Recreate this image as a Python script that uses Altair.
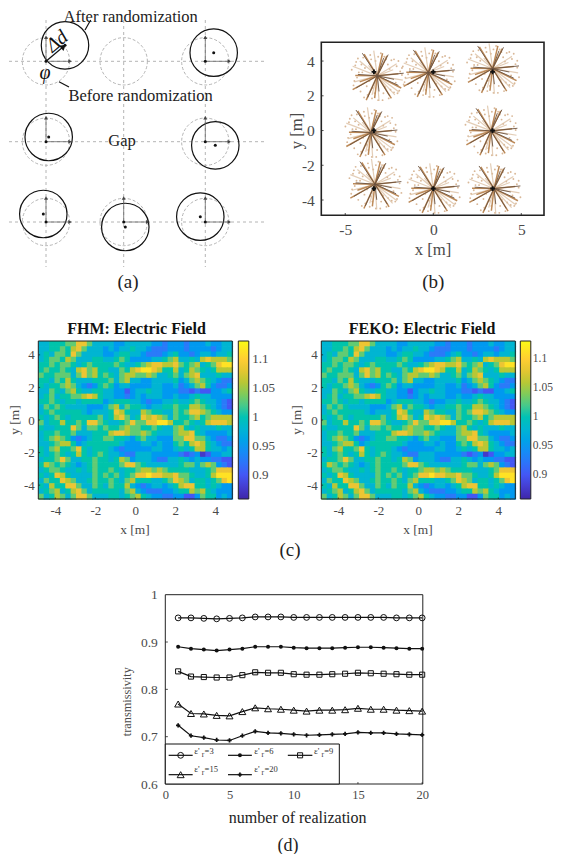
import altair as alt
import numpy as np
import pandas as pd

SERIF = "Liberation Serif"
GRAY = "#4a4a4a"

# ---------- panel (a): schematic, in page pixels
h_lines = [61.3, 141.7, 222.0]
v_lines = [46.0, 123.7, 205.3]
before_centers = [(46, 61.3), (123.7, 61.3), (205.3, 61.3), (46, 141.7), (205.3, 141.7),
                  (46, 222), (123.7, 222), (205.3, 222)]
after_centers = [(65, 45.3), (213.7, 52.7), (48.7, 137), (215.3, 145.3),
                 (43.3, 214), (125.3, 227), (200.3, 216.7)]
origins = [(46, 61.3), (205.3, 61.3), (46, 141.7), (205.3, 141.7),
           (46, 222), (123.7, 222), (205.3, 222)]
leaders = [(90.7, 20, 85, 30), (69, 87, 59, 81.7), (46, 61.3, 63, 47)]

# ---------- panel (b): tree positions and a branch pattern
tree_x = [-3.18, -0.28, 3.37, -3.54, 3.28, -3.31, 0.0, 3.45]
tree_y = [3.15, 3.34, 3.57, -0.12, -0.02, -3.09, -3.34, -3.34]
plus_x = [-3.37, 0.0, 3.37, -3.37, 3.37, -3.37, 0.0, 3.37]
plus_y = [3.38, 3.38, 3.38, 0.0, 0.0, -3.34, -3.34, -3.34]
orange_dx = [-1.25, -1.4, -.63, -.15, .8, 1.36, 1.2, -.75, .55, .3, -1.0]
orange_dy = [.02, -.8, -1.4, -1.28, -1.3, -.7, .12, 1.25, 1.15, 1.3, -.35]
dark_dx = [-1.1, 1.5, -.85, .62, .36, -1.2, -.55, .7, 1.2, .1, .95]
dark_dy = [.08, .15, 1.3, 1.22, 1.02, -.7, -1.25, -1.15, -.55, -.9, -.2]
tan_dx = [1.1, -.2, .1, -1.4, 1.45, 1.0, -1.0, .2, -.5, .9, -1.3, 1.25, -.3, .5]
tan_dy = [.7, 1.45, -1.45, .55, -.25, -1.1, .85, .75, .6, .35, -.35, -.95, -1.1, -.75]
twig_dx = [-1.45, -1.3, -1.2, -1.05, -.95, -.8, -.7, -.55, -.4, -.25, -.1, .05, .2, .35, .5, .65,
           .8, .95, 1.1, 1.25, 1.4, 1.5, -1.35, -1.15, -.9, -.6, -.3, .15, .45, .75, 1.05, 1.3,
           -1.1, -.75, -.35, .3, .7, 1.15, -1.25, -.85, .6, .95, -.45, .05, .4, -.15, 1.2, 1.4]
twig_dy = [.35, -.3, .8, .2, -.9, 1.05, .45, -1.1, 1.2, -.7, .85, -1.4, 1.3, -1.0, .95, -1.3,
           .9, -.95, .55, -.85, .45, -.5, -.55, -.1, .65, -.6, -1.3, .5, -.65, -.8, -.4, .25,
           1.0, -1.25, .95, -1.4, .4, -1.0, .6, .2, .65, .95, -.3, 1.1, 1.1, -1.0, .85, .05]

# ---------- panel (c): field values, level per cell
levels = [0.875, 0.90, 0.925, 0.95, 0.98, 1.005, 1.03, 1.06, 1.085, 1.115]
field_rows = [
    "445556 688644 443344 444332 333233 343344",
    "445565 786444 343445 443222 333233 332344",
    "454665 864444 334554 432223 453323 443445",
    "456657 644455 445653 333445 674454 787776",
    "556566 545655 556544 567887 786567 456899",
    "565565 478675 544657 899875 574576 545777",
    "655666 468675 654677 667644 564678 444544",
    "554657 544455 564674 433444 453467 654322",
    "545567 643235 653443 333443 342346 753223",
    "446546 754455 443313 445443 332212 113345",
    "456455 667875 443323 434443 343345 443333",
    "556545 545555 345554 432334 454456 544321",
    "465654 444333 467465 543445 565577 654321",
    "456555 554344 458754 476554 465688 765433",
    "545654 555556 457864 587876 465567 567777",
    "645575 565886 544568 668899 755654 578887",
    "544555 864665 655676 655654 467545 444544",
    "455655 644455 578876 676544 467785 433334",
    "456765 323455 665543 564433 366886 643223",
    "445677 534555 555433 344343 356578 754322",
    "546755 685455 543233 333443 345457 754434",
    "545654 575456 544322 444333 332123 013344",
    "455686 445565 545763 444322 445434 332211",
    "576565 434565 555688 654444 445664 676321",
    "456654 454565 565455 677676 555544 456888",
    "545875 444465 656456 889887 786654 457999",
    "465587 644565 565467 555445 687645 545689",
    "547558 864465 465574 323443 457885 545433",
    "456745 786455 555467 432223 345576 754333",
    "645764 688644 455456 754332 233113 655343",
]
parula = ["#3e26a8", "#4752f4", "#2e87f7", "#12b1d6", "#37c897", "#abc739", "#fec338", "#f9fb15"]
heat_ticks = [-4, -2, 0, 2, 4]
bar_ticks = [0.9, 0.95, 1, 1.05, 1.1]

# ---------- panel (d)
realization = list(range(1, 21))
eps3 = [.951, .951, .950, .949, .950, .951, .953, .953, .953, .952, .952, .952, .952, .952, .952, .952, .952, .951, .951, .951]
eps6 = [.890, .886, .884, .882, .884, .886, .890, .890, .890, .888, .887, .887, .887, .888, .889, .889, .888, .887, .886, .886]
eps9 = [.838, .827, .826, .825, .825, .830, .836, .835, .835, .832, .831, .831, .832, .833, .835, .834, .833, .832, .831, .831]
eps15 = [.769, .749, .748, .745, .744, .753, .761, .759, .758, .756, .754, .756, .756, .757, .760, .758, .758, .756, .755, .754]
eps20 = [.724, .702, .698, .693, .692, .702, .711, .708, .707, .705, .703, .704, .705, .706, .709, .708, .708, .706, .705, .704]

W, H = 545, 846
px = alt.Scale(domain=[8, 8 + W], range=[0, W])
py = alt.Scale(domain=[8, 8 + H], range=[0, H])


def page_xy(xf="x", yf="y"):
    return dict(x=alt.X(f"{xf}:Q", scale=px, axis=None), y=alt.Y(f"{yf}:Q", scale=py, axis=None))


def df(**kw):
    return alt.Data(values=pd.DataFrame(kw).to_dict("records"))


def texts(items, **mk):
    data = df(t=[i[0] for i in items], x=[i[1] for i in items], y=[i[2] for i in items])
    return alt.Chart(data).mark_text(font=SERIF, baseline="middle", **mk).encode(text="t:N", **page_xy())


def segs(rows, **mk):
    rows = list(rows)
    data = df(x=[r[0] for r in rows], y=[r[1] for r in rows], x2=[r[2] for r in rows], y2=[r[3] for r in rows])
    return alt.Chart(data).mark_rule(**mk).encode(x2="x2:Q", y2="y2:Q", **page_xy())


def pts(rows, **mk):
    rows = list(rows)
    data = df(x=[r[0] for r in rows], y=[r[1] for r in rows])
    return alt.Chart(data).mark_point(**mk).encode(**page_xy())


dash_gray = "#b4b4b4"
page_layers = [
    segs([(9, y, 267, y) for y in h_lines] + [(x, 20, x, 267) for x in v_lines],
         stroke=dash_gray, strokeWidth=1, strokeDash=[3, 3]),
    pts(before_centers, shape="circle", size=2240, filled=False, stroke=dash_gray, strokeWidth=1, strokeDash=[3, 2], opacity=1),
    pts(after_centers, shape="circle", size=2250, filled=False, stroke="#111", strokeWidth=1.2, opacity=1),
    segs([(x, y, x + 24, y) for x, y in origins], stroke="#666", strokeWidth=0.8),
    segs([(x, y, x, y - 24) for x, y in origins], stroke="#666", strokeWidth=0.8),
    pts([(x + 24, y) for x, y in origins], shape="triangle-right", size=16, filled=True, color="#444", opacity=1),
    pts([(x, y - 24) for x, y in origins], shape="triangle-up", size=16, filled=True, color="#444", opacity=1),
    pts(origins, shape="circle", size=9, filled=True, color="#111", opacity=1),
    pts(after_centers, shape="circle", size=9, filled=True, color="#111", opacity=1),
    segs(leaders, stroke="#111", strokeWidth=1.2),
    pts([(63.5, 46.5)], shape="triangle-up", size=45, angle=50, filled=True, color="#111", opacity=1),
    texts([("After randomization", 130.7, 17), ("Before randomization", 140.7, 96), ("Gap", 122, 140.5)],
          fontSize=16.5, color="#222", align="center"),
    texts([("(a)", 128, 282), ("(b)", 433.3, 282), ("(c)", 290, 550)],
          fontSize=19, color="#222", align="center"),
    texts([("(d)", 288, 845.5)], fontSize=18, color="#222", align="center"),
    texts([("Δd", 57, 41.5)], fontSize=20, fontStyle="italic", angle=320, color="#111", align="center"),
    texts([("φ", 45, 73)], fontSize=20, fontStyle="italic", color="#111", align="center"),
    # axis titles
    texts([("x [m]", 433, 250)], fontSize=16.7, color=GRAY, align="center"),
    texts([("y [m]", 297, 131)], fontSize=16.7, color=GRAY, align="center", angle=270),
    texts([("x [m]", 135, 530), ("x [m]", 418, 530)], fontSize=13.4, color=GRAY, align="center"),
    texts([("y [m]", 15, 420), ("y [m]", 297, 420)], fontSize=13.4, color=GRAY, align="center", angle=270),
    texts([("FHM: Electric Field", 136.5, 329), ("FEKO: Electric Field", 422, 329)],
          fontSize=16, fontWeight="bold", color="#111", align="center"),
    texts([("number of realization", 297.7, 818)], fontSize=16, color="#222", align="center"),
    texts([("transmissivity", 127, 701.7)], fontSize=12.3, color=GRAY, align="center", angle=270),
]


def make_axis(orient, vals, offset, size, pad):
    return alt.Axis(orient=orient, values=vals, offset=offset, domain=False, ticks=False, grid=False,
                    labelFont=SERIF, labelFontSize=size, labelColor=GRAY, labelPadding=pad, title=None,
                    labelExpr="'' + datum.value", labelFlush=False, labelOverlap=False)


def frame_layer(xs, ys, xd, yd, xa, ya, width=1.0):
    return alt.Chart(df(a=[xd[0]], b=[xd[1]], c=[yd[0]], d=[yd[1]])).mark_rect(
        fill=None, stroke="#222", strokeWidth=width
    ).encode(x=alt.X("a:Q", scale=xs, axis=xa), x2="b:Q", y=alt.Y("c:Q", scale=ys, axis=ya), y2="d:Q")


def ticks_layer(xs, ys, xd, yd, xv, yv, dx, dy, xa, ya):
    rows = [(v, yd[0], v, yd[0] + dy) for v in xv] + [(xd[0], v, xd[0] + dx, v) for v in yv]
    data = df(a=[r[0] for r in rows], b=[r[1] for r in rows], c=[r[2] for r in rows], d=[r[3] for r in rows])
    return alt.Chart(data).mark_rule(stroke="#222", strokeWidth=0.8).encode(
        x=alt.X("a:Q", scale=xs, axis=xa), y=alt.Y("b:Q", scale=ys, axis=ya), x2="c:Q", y2="d:Q")


# ---------- panel (b)
bx_dom, by_dom = [-6.36, 6.29], [-4.88, 5.08]
bxs = alt.Scale(domain=bx_dom, range=[321.3 - 8, 544 - 8], nice=False, zero=False)
bys = alt.Scale(domain=by_dom, range=[215.3 - 8, 42.3 - 8], nice=False, zero=False)
bxa = make_axis("bottom", [-5, 0, 5], 215.3 - 8 - H, 15.5, 7)
bya = make_axis("left", [-4, -2, 0, 2, 4], -(321.3 - 8), 15.5, 7)


def tree_lines(dxs, dys, **mk):
    a, b, c, d = [], [], [], []
    for cx, cy in zip(tree_x, tree_y):
        for dx, dy in zip(dxs, dys):
            a.append(cx); b.append(cy); c.append(cx + dx); d.append(cy + dy)
    return alt.Chart(df(a=a, b=b, c=c, d=d)).mark_rule(**mk).encode(
        x=alt.X("a:Q", scale=bxs, axis=bxa), y=alt.Y("b:Q", scale=bys, axis=bya), x2="c:Q", y2="d:Q")


tw_x, tw_y = [], []
for cx, cy in zip(tree_x, tree_y):
    for dx, dy in zip(twig_dx, twig_dy):
        tw_x.append(cx + dx); tw_y.append(cy + dy)

panel_b = alt.layer(
    alt.Chart(df(a=tw_x, b=tw_y)).mark_point(shape="circle", size=3.5, filled=True, color="#cfa67e", opacity=0.8).encode(
        x=alt.X("a:Q", scale=bxs, axis=bxa), y=alt.Y("b:Q", scale=bys, axis=bya)),
    tree_lines(tan_dx, tan_dy, stroke="#dcc0a4", strokeWidth=1.2, strokeOpacity=0.8),
    tree_lines(orange_dx, orange_dy, stroke="#bd8a58", strokeWidth=1.5),
    tree_lines(dark_dx, dark_dy, stroke="#6b5240", strokeWidth=0.9),
    alt.Chart(df(a=plus_x, b=plus_y)).mark_point(shape="cross", size=22, filled=True, color="#111", opacity=1).encode(
        x=alt.X("a:Q", scale=bxs, axis=bxa), y=alt.Y("b:Q", scale=bys, axis=bya)),
    ticks_layer(bxs, bys, bx_dom, by_dom, [-5, 0, 5], [-4, -2, 0, 2, 4], 0.13, 0.13, bxa, bya),
    frame_layer(bxs, bys, bx_dom, by_dom, bxa, bya, 1.6),
)

# ---------- panel (c)
grid = [[levels[int(ch)] for ch in row.replace(" ", "")] for row in field_rows]
x_edges = np.linspace(-4.85, 4.85, len(grid[0]) + 1)
y_edges = np.linspace(4.85, -4.85, len(grid) + 1)
cells = [
    dict(x0=float(x_edges[i]), x1=float(x_edges[i + 1]) + 0.04, y0=float(y_edges[j]), y1=float(y_edges[j + 1]) - 0.04, v=v)
    for j, row in enumerate(grid) for i, v in enumerate(row)
]


def heat_panel(left, bar_gap, label_size, label_offset):
    right = left + 194
    xs = alt.Scale(domain=[-4.85, 4.85], range=[left - 8, right - 8], nice=False, zero=False)
    ys = alt.Scale(domain=[-4.85, 4.85], range=[499 - 8, 341 - 8], nice=False, zero=False)
    xa = make_axis("bottom", heat_ticks, 499 - 8 - H, 13, 5)
    ya = make_axis("left", heat_ticks, -(left - 8), 13, 4)
    rect = alt.Chart(alt.Data(values=cells)).mark_rect(clip=True).encode(
        x=alt.X("x0:Q", scale=xs, axis=xa),
        x2="x1:Q",
        y=alt.Y("y0:Q", scale=ys, axis=ya),
        y2="y1:Q",
        color=alt.Color("v:Q", scale=alt.Scale(domain=[0.858, 1.132], range=parula, nice=False, zero=False),
                        legend=alt.Legend(orient="none", legendX=right + bar_gap - 8, legendY=341 - 8, title=None,
                                          direction="vertical", gradientLength=158, gradientThickness=10.5,
                                          values=bar_ticks, labelExpr="'' + datum.value", labelFont=SERIF,
                                          labelFontSize=label_size, labelColor=GRAY, labelOffset=label_offset,
                                          gradientStrokeColor="#222", gradientStrokeWidth=1, labelOverlap=False)),
    )
    return alt.layer(
        rect,
        ticks_layer(xs, ys, [-4.85, 4.85], [-4.85, 4.85], heat_ticks, heat_ticks, 0.09, 0.09, xa, ya),
        frame_layer(xs, ys, [-4.85, 4.85], [-4.85, 4.85], xa, ya, 1.0),
    )


panel_c1 = heat_panel(38.3, 6, 13, 3.5)
panel_c2 = heat_panel(321.3, 5, 11.5, 2)

# ---------- panel (d)
dx_dom, dy_dom = [0, 20.05], [0.6, 1.0]
dxs = alt.Scale(domain=dx_dom, range=[165.3 - 8, 422.8 - 8], nice=False, zero=False)
dys = alt.Scale(domain=dy_dom, range=[784 - 8, 594.7 - 8], nice=False, zero=False)
dxa = make_axis("bottom", [0, 5, 10, 15, 20], 784 - 8 - H, 12.5, 4)
dya = make_axis("left", [0.6, 0.7, 0.8, 0.9, 1], -(165.3 - 8), 13.5, 8)


def dpos(xf="a", yf="b"):
    return dict(x=alt.X(f"{xf}:Q", scale=dxs, axis=dxa), y=alt.Y(f"{yf}:Q", scale=dys, axis=dya))


series = [
    (eps3, dict(shape="circle", size=34, filled=False), "3"),
    (eps6, dict(shape="circle", size=16, filled=True), "6"),
    (eps9, dict(shape="square", size=26, filled=False), "9"),
    (eps15, dict(shape="triangle-up", size=48, filled=False), "15"),
    (eps20, dict(shape="cross", size=18, filled=True), "20"),
]
# legend sample lines: x0, x1, y, and text anchor x
leg_x0 = [0.26, 4.88, 9.54, 0.26, 4.88]
leg_x1 = [2.13, 6.74, 11.45, 2.13, 6.74]
leg_y = [0.6606, 0.6606, 0.6606, 0.6197, 0.6197]
leg_tx = [2.26, 6.92, 11.58, 2.26, 6.92]
leg_ty = [0.6690, 0.6690, 0.6690, 0.6310, 0.6310]

d_layers = [
    ticks_layer(dxs, dys, dx_dom, dy_dom, [5, 10, 15, 20], [0.7, 0.8, 0.9], 0.2, 0.004, dxa, dya),
    frame_layer(dxs, dys, dx_dom, dy_dom, dxa, dya, 1.0),
]
for vals, style, _ in series:
    data = df(a=realization, b=vals)
    d_layers.append(alt.Chart(data).mark_line(stroke="#111", strokeWidth=1.2).encode(**dpos()))
    d_layers.append(alt.Chart(data).mark_point(color="#111", opacity=1, strokeWidth=1, clip=False, **style).encode(**dpos()))

d_layers.append(
    alt.Chart(df(a=[0.0], c=[13.55], b=[0.6], d=[0.6845])).mark_rect(fill="white", stroke="#111", strokeWidth=1)
    .encode(x=alt.X("a:Q", scale=dxs, axis=dxa), x2="c:Q", y=alt.Y("b:Q", scale=dys, axis=dya), y2="d:Q")
)
for (vals, style, lab), x0, x1, ly, tx, ty in zip(series, leg_x0, leg_x1, leg_y, leg_tx, leg_ty):
    d_layers.append(alt.Chart(df(a=[x0], c=[x1], b=[ly])).mark_rule(stroke="#111", strokeWidth=1.2)
                    .encode(x2="c:Q", **dpos()))
    d_layers.append(alt.Chart(df(a=[(x0 + x1) / 2], b=[ly])).mark_point(color="#111", opacity=1, strokeWidth=1, **style)
                    .encode(**dpos()))
    for t, off, dy_, size in (("ε'", 0.0, 0.0, 9), ("r", 0.58, -0.008, 7.5), ("=" + lab, 0.8, 0.0, 8.5)):
        d_layers.append(
            alt.Chart(df(a=[tx + off], b=[ty + dy_], t=[t])).mark_text(
                font=SERIF, fontSize=size, color="#333", align="left", baseline="middle")
            .encode(text="t:N", **dpos())
        )
panel_d = alt.layer(*d_layers)

chart = alt.layer(
    alt.layer(*page_layers), panel_b, panel_c1, panel_c2, panel_d
).resolve_scale(x="independent", y="independent", color="independent").properties(
    width=W, height=H, padding=0, autosize=alt.AutoSizeParams(type="none"),
    background="white", view=alt.ViewConfig(stroke=None)
).configure_view(stroke=None)

chart.save("out.html", embed_options={"renderer": "svg", "actions": False})
